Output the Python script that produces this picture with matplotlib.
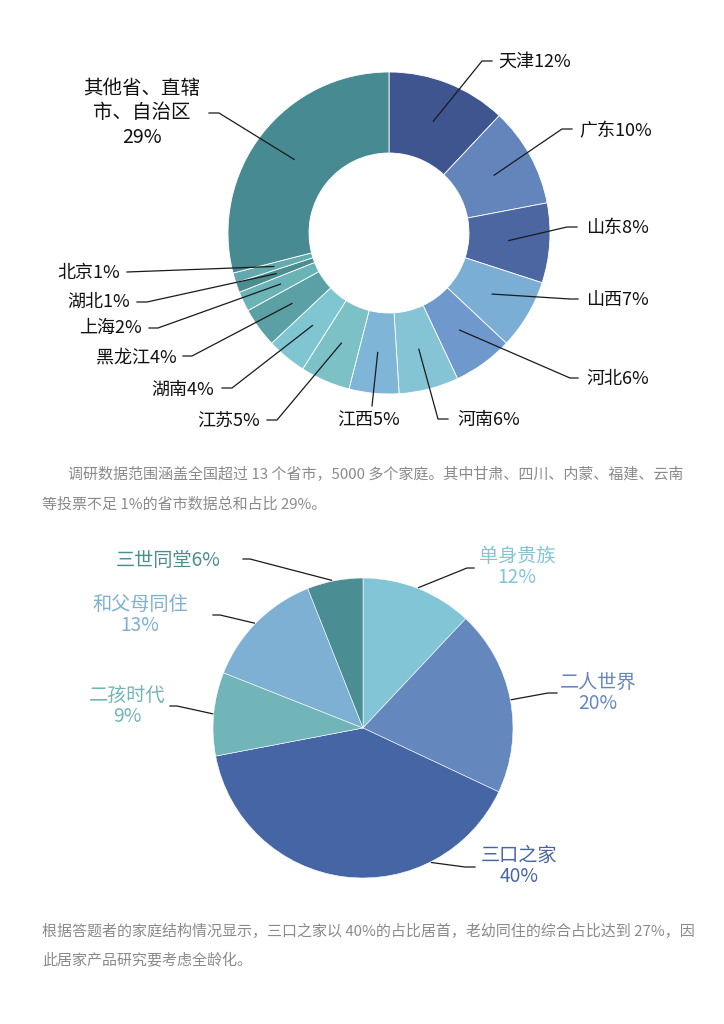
import matplotlib
matplotlib.use("Agg")
import matplotlib.pyplot as plt
import numpy as np

plt.rcParams['font.family'] = ['Noto Sans CJK SC', 'DejaVu Sans']

# donut: province share
prov = ["天津", "广东", "山东", "山西", "河北", "河南", "江西", "江苏",
        "湖南", "黑龙江", "上海", "湖北", "北京", "其他省、直辖\n市、自治区"]
prov_pct = [12, 10, 8, 7, 6, 6, 5, 5, 4, 4, 2, 1, 1, 29]
prov_colors = ["#3e5590", "#6485bc", "#4b66a1", "#7baed5", "#6f98cc", "#84c4d5",
               "#7fb6d8", "#7bc1c5", "#80c6d2", "#5aa0a4", "#6ab4b8", "#4a8e92",
               "#62aaae", "#478a91"]

# pie: family structure
fam = ["单身贵族", "二人世界", "三口之家", "二孩时代", "和父母同住", "三世同堂"]
fam_pct = [12, 20, 40, 9, 13, 6]
fam_colors = ["#82c5d6", "#6488bd", "#4665a5", "#72b5b8", "#7db0d3", "#4a8d93"]

para1 = ["调研数据范围涵盖全国超过 13 个省市，5000 多个家庭。其中甘肃、四川、内蒙、福建、云南",
         "等投票不足 1%的省市数据总和占比 29%。"]
para2 = ["根据答题者的家庭结构情况显示，三口之家以 40%的占比居首，老幼同住的综合占比达到 27%，因",
         "此居家产品研究要考虑全龄化。"]

H = 1024
def Y(y):
    return H - y

fig = plt.figure(figsize=(7.24, 10.24), dpi=100)
ax = fig.add_axes([0, 0, 1, 1])

# ---- donut
c1 = (389, Y(233))
w1, _ = ax.pie(prov_pct, colors=prov_colors, startangle=90, counterclock=False,
               center=c1, radius=161,
               wedgeprops=dict(width=81, edgecolor="white", linewidth=0.6))

# text pos, ha, leader points after anchor
lay1 = [
    ((498, 63), "left", [(482, 61), (492, 61)]),
    ((579, 131), "left", [(562, 129), (572, 129)]),
    ((586, 228), "left", [(567, 227), (577, 227)]),
    ((586, 300), "left", [(570, 299), (578, 299)]),
    ((586, 379), "left", [(570, 378), (578, 378)]),
    ((457, 420), "left", [(438, 419), (448, 419)]),
    ((369, 421), "center", [(372, 406)]),
    ((260, 422), "right", [(277, 420), (267, 420)]),
    ((214, 390), "right", [(232, 388), (222, 388)]),
    ((177, 358), "right", [(192, 356), (183, 356)]),
    ((142, 328), "right", [(158, 328), (149, 328)]),
    ((130, 302), "right", [(147, 302), (137, 302)]),
    ((120, 273), "right", [(127, 272)]),
    ((142, 113), "center", [(219, 113), (209, 113)]),
]

for w, name, pct, (tp, ha, pts) in zip(w1, prov, prov_pct, lay1):
    th = np.deg2rad((w.theta1 + w.theta2) / 2)
    ax_, ay_ = c1[0] + 120 * np.cos(th), c1[1] + 120 * np.sin(th)
    xs = [ax_] + [p[0] for p in pts]
    ys = [ay_] + [Y(p[1]) for p in pts]
    ax.plot(xs, ys, color="#1a1a1a", lw=0.9)
    if "\n" in name:
        txt = f"{name}\n{pct}%"
        ax.text(tp[0], Y(tp[1]), txt, ha=ha, va="center", fontsize=14,
                color="#111111", linespacing=1.2)
    else:
        ax.text(tp[0], Y(tp[1]), f"{name}{pct}%", ha=ha, va="center",
                fontsize=13, color="#111111")

# ---- pie
c2 = (363, Y(728))
w2, _ = ax.pie(fam_pct, colors=fam_colors, startangle=90, counterclock=False,
               center=c2, radius=150,
               wedgeprops=dict(edgecolor="white", linewidth=0.4))

# text pos, leader points, two-line label, anchor angle override
lay2 = [
    ((517, 567), [(467, 568), (474, 568)], True, None),
    ((598, 693), [(548, 693), (557, 693)], True, None),
    ((519, 866), [(465, 867), (475, 867)], True, -63),
    ((127, 706), [(177, 706), (170, 706)], True, None),
    ((140, 615), [(220, 615), (213, 615)], True, 136),
    ((168, 561), [(250, 559), (243, 559)], False, 102),
]

for w, name, pct, col, (tp, pts, two, ang) in zip(w2, fam, fam_pct, fam_colors, lay2):
    if ang is None:
        ang = (w.theta1 + w.theta2) / 2
    th = np.deg2rad(ang)
    ax_, ay_ = c2[0] + 151 * np.cos(th), c2[1] + 151 * np.sin(th)
    xs = [ax_] + [p[0] for p in pts]
    ys = [ay_] + [Y(p[1]) for p in pts]
    ax.plot(xs, ys, color="#1a1a1a", lw=0.9)
    txt = f"{name}\n{pct}%" if two else f"{name}{pct}%"
    ax.text(tp[0], Y(tp[1]), txt, ha="center", va="center", fontsize=13.8,
            color=col, linespacing=1.05, fontweight="light")

# ---- body text
for (x, y), s in zip([(68, 475), (42, 505)], para1):
    ax.text(x, Y(y), s, ha="left", va="center", fontsize=10.8, color="#8a8a8a")
for (x, y), s in zip([(42, 931), (42, 960)], para2):
    ax.text(x, Y(y), s, ha="left", va="center", fontsize=10.8, color="#8a8a8a")

ax.set_xlim(0, 724)
ax.set_ylim(0, H)
ax.set_aspect("auto")
ax.axis("off")

fig.savefig("out.png", dpi=100, facecolor="white")
